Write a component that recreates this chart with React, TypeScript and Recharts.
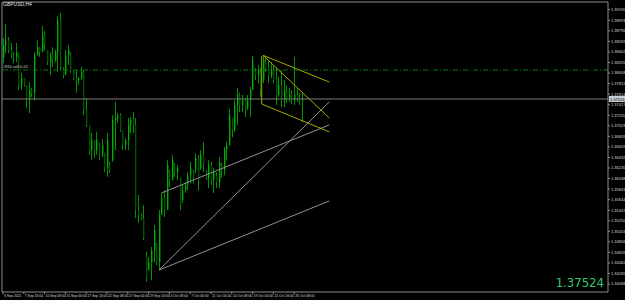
import { Bar, ComposedChart, ReferenceLine, XAxis, YAxis } from "recharts";

// GBPUSD H4, each drawn candle stands for two H4 bars (as on the downscaled screenshot)
const highs = [
  1.3866, 1.3892, 1.3868, 1.3857, 1.384, 1.3857, 1.3838, 1.3801, 1.3791, 1.3778,
  1.3784, 1.3773, 1.384, 1.3862, 1.3849, 1.3889, 1.3879, 1.3844, 1.384, 1.3849,
  1.3844, 1.3907, 1.3913, 1.3812, 1.3844, 1.3853, 1.384, 1.3806, 1.3806, 1.3793,
  1.3812, 1.3806, 1.3754, 1.3704, 1.3689, 1.3676, 1.3691, 1.367, 1.3678, 1.3651,
  1.3689, 1.3635, 1.3722, 1.3747, 1.3726, 1.3726, 1.3694, 1.3679, 1.3717, 1.3719,
  1.3728, 1.3717, 1.3573, 1.3539, 1.3554, 1.3467, 1.3457, 1.3476, 1.3517, 1.3483,
  1.3545, 1.3577, 1.3582, 1.3638, 1.362, 1.3648, 1.3633, 1.3629, 1.3605, 1.3592,
  1.3597, 1.3616, 1.3635, 1.362, 1.3651, 1.3648, 1.3657, 1.3672, 1.362, 1.3638,
  1.3635, 1.3623, 1.3616, 1.3644, 1.3633, 1.3663, 1.3672, 1.3734, 1.3717, 1.375,
  1.3773, 1.3764, 1.376, 1.3754, 1.376, 1.3775, 1.3833, 1.381, 1.3816, 1.381,
  1.3834, 1.3829, 1.3825, 1.3821, 1.3816, 1.3812, 1.3793, 1.3806, 1.3788, 1.3778,
  1.3773, 1.3769, 1.3831, 1.3773, 1.3764, 1.3765,
];
const lows = [
  1.3819, 1.3838, 1.3838, 1.3829, 1.3819, 1.3821, 1.3769, 1.3769, 1.3775, 1.3735,
  1.3726, 1.3756, 1.375, 1.3834, 1.3831, 1.384, 1.3844, 1.3816, 1.3797, 1.3812,
  1.3821, 1.3803, 1.3806, 1.3791, 1.3797, 1.3816, 1.3801, 1.3788, 1.3764, 1.3778,
  1.3788, 1.3722, 1.37, 1.3648, 1.3638, 1.3642, 1.3648, 1.3638, 1.3644, 1.3616,
  1.3607, 1.3614, 1.3635, 1.3657, 1.3707, 1.3691, 1.3657, 1.3657, 1.3657, 1.3689,
  1.3689, 1.353, 1.3521, 1.3526, 1.3489, 1.3411, 1.3433, 1.3414, 1.3448, 1.3442,
  1.3433, 1.3536, 1.3532, 1.3545, 1.3588, 1.3601, 1.3607, 1.3601, 1.3545, 1.3558,
  1.3577, 1.3582, 1.3595, 1.3595, 1.3614, 1.3582, 1.362, 1.3616, 1.3601, 1.3586,
  1.3592, 1.3577, 1.3586, 1.3586, 1.3605, 1.361, 1.3638, 1.3666, 1.3681, 1.3691,
  1.3704, 1.3728, 1.3728, 1.3719, 1.3732, 1.3719, 1.3769, 1.3788, 1.3782, 1.3756,
  1.3782, 1.3803, 1.3782, 1.3791, 1.3782, 1.3741, 1.3756, 1.3737, 1.3737, 1.3745,
  1.3747, 1.3743, 1.3741, 1.3747, 1.3741, 1.3709,
];
const opens = [
  1.3829, 1.3853, 1.3862, 1.3844, 1.3834, 1.3831, 1.3838, 1.3778, 1.3791, 1.3778,
  1.375, 1.3769, 1.3764, 1.3834, 1.3849, 1.384, 1.3872, 1.3844, 1.3821, 1.3834,
  1.3825, 1.384, 1.39, 1.381, 1.3797, 1.3834, 1.384, 1.3806, 1.3791, 1.3788,
  1.3791, 1.3803, 1.3732, 1.3704, 1.3657, 1.3676, 1.3657, 1.3666, 1.3648, 1.3651,
  1.3623, 1.3629, 1.3638, 1.3713, 1.3717, 1.3722, 1.3694, 1.3666, 1.3676, 1.3704,
  1.3713, 1.3704, 1.3545, 1.3536, 1.353, 1.3461, 1.3433, 1.3448, 1.347, 1.348,
  1.3448, 1.3536, 1.3567, 1.3545, 1.3616, 1.3601, 1.3629, 1.3616, 1.3601, 1.3564,
  1.3582, 1.3592, 1.361, 1.3616, 1.362, 1.3642, 1.3623, 1.3648, 1.3616, 1.3605,
  1.3629, 1.3601, 1.361, 1.3597, 1.3629, 1.362, 1.3657, 1.3666, 1.3717, 1.3694,
  1.3741, 1.376, 1.3741, 1.375, 1.3735, 1.375, 1.3769, 1.3803, 1.3797, 1.3803,
  1.3788, 1.3821, 1.381, 1.3797, 1.3806, 1.3788, 1.376, 1.3778, 1.375, 1.3769,
  1.3754, 1.376, 1.375, 1.376, 1.3754, 1.375,
];
const closes = [
  1.3853, 1.3862, 1.3844, 1.3834, 1.3831, 1.384, 1.3778, 1.3791, 1.3778, 1.375,
  1.3769, 1.3764, 1.3834, 1.3849, 1.384, 1.3872, 1.3853, 1.3821, 1.3834, 1.3825,
  1.384, 1.39, 1.381, 1.3797, 1.3834, 1.3844, 1.3806, 1.3791, 1.3788, 1.3791,
  1.3803, 1.3732, 1.3704, 1.3657, 1.3676, 1.3657, 1.3676, 1.3648, 1.3666, 1.3623,
  1.3676, 1.362, 1.3713, 1.3717, 1.3722, 1.3694, 1.3666, 1.3676, 1.3704, 1.3713,
  1.3704, 1.3545, 1.3536, 1.353, 1.3493, 1.3418, 1.3448, 1.347, 1.3508, 1.3448,
  1.3536, 1.3567, 1.3545, 1.3629, 1.3601, 1.3638, 1.3616, 1.3623, 1.3554, 1.3582,
  1.3592, 1.361, 1.3623, 1.3605, 1.3642, 1.3601, 1.3648, 1.3629, 1.3605, 1.3629,
  1.3601, 1.3616, 1.3597, 1.3635, 1.362, 1.3657, 1.3666, 1.3722, 1.3694, 1.3741,
  1.376, 1.3741, 1.375, 1.3732, 1.375, 1.3769, 1.3825, 1.3797, 1.3806, 1.3769,
  1.3825, 1.381, 1.3797, 1.3806, 1.3788, 1.376, 1.3778, 1.375, 1.3769, 1.3754,
  1.376, 1.375, 1.376, 1.3754, 1.375, 1.37524,
];

const priceTicks = [
  1.3919, 1.38993, 1.38796, 1.38599, 1.38402, 1.38205, 1.38008, 1.37811, 1.37614,
  1.37417, 1.3722, 1.37023, 1.36826, 1.36629, 1.36432, 1.36235, 1.36038, 1.35841,
  1.35644, 1.35447, 1.3525, 1.35053, 1.34856, 1.34659, 1.34462, 1.34265, 1.34068,
];
// H4 bar numbers of the time scale labels
const timeTicks = [0, 16, 32, 48, 64, 80, 96, 112, 128, 144, 160, 176, 192, 208, 224];
const timeLabels = [
  "3 Sep 2021", "7 Sep 16:00", "10 Sep 08:00", "15 Sep 00:00", "17 Sep 16:00",
  "22 Sep 08:00", "27 Sep 00:00", "29 Sep 16:00", "4 Oct 08:00", "7 Oct 00:00",
  "11 Oct 16:00", "14 Oct 08:00", "19 Oct 00:00", "21 Oct 16:00", "26 Oct 08:00",
];

const bid = 1.37524;
const orderPrice = 1.38065;

// drawn objects: [bar, price] -> [bar, price]
const yellowLines = [
  [[200, 1.3834], [251, 1.3784]],
  [[200, 1.3834], [251, 1.3717]],
  [[199, 1.3833], [199, 1.3743]],
  [[199, 1.3743], [251, 1.3691]],
];
const grayLines = [
  [[120, 1.3433], [251, 1.3747]],
  [[120, 1.3433], [251, 1.3562]],
  [[122, 1.3577], [251, 1.3704]],
];

const candles = highs.map((h, i) => ({
  bar: i * 2,
  high: h,
  low: lows[i],
  open: opens[i],
  close: closes[i],
}));

function Candle(props: any) {
  const { x, y, width, height, payload } = props;
  const top = Math.min(y, y + height);
  const h = Math.abs(height);
  const span = payload.high - payload.low;
  const k = span > 0 ? h / span : 0;
  const cx = Math.round(x + width / 2) + 0.5;
  const bodyTop = top + (payload.high - Math.max(payload.open, payload.close)) * k;
  const bodyH = Math.max(1, Math.abs(payload.open - payload.close) * k);
  const up = payload.close >= payload.open;
  return (
    <g>
      <line x1={cx} x2={cx} y1={top} y2={top + h} stroke="#009400" strokeWidth={1} />
      <rect x={cx - 0.5} y={bodyTop} width={1.4} height={bodyH} fill={up ? "#00b000" : "#005200"} />
    </g>
  );
}

function TimeTick({ x, y, payload }: any) {
  const label = timeLabels[timeTicks.indexOf(payload.value)];
  return (
    <g>
      <text x={x + 1} y={y + 3} fontSize={3.4} fill="#d8d8d8" textAnchor="start" fontFamily="Liberation Sans, sans-serif">
        {label}
      </text>
    </g>
  );
}

function BidLabel({ viewBox }: any) {
  const x = viewBox.x + viewBox.width + 1;
  const y = viewBox.y;
  return (
    <g>
      <rect x={x} y={y - 3} width={16} height={6} fill="#c4ccd6" />
      <text x={x + 1} y={y + 1.6} fontSize={4} fill="#000" fontFamily="Liberation Sans, sans-serif">
        {bid.toFixed(5)}
      </text>
    </g>
  );
}

function OrderLabel({ viewBox }: any) {
  return (
    <text x={viewBox.x + 1} y={viewBox.y - 2} fontSize={4} fill="#d0d0d0" fontFamily="Liberation Sans, sans-serif">
      #810 sell 0.01
    </text>
  );
}

export default function App() {
  return (
    <div style={{ position: "relative", width: 625, height: 300, background: "#000" }}>
      <style>{"body{margin:0;background:#000}"}</style>
      <ComposedChart width={625} height={300} data={candles} margin={{ top: 1, right: 0, left: 0, bottom: 0 }}>
        <XAxis xAxisId="frame" orientation="top" type="number" domain={[0, 1]} height={1} tick={false} tickLine={false} axisLine={{ stroke: "#8c8c8c" }} />
        <YAxis yAxisId="frame" orientation="left" type="number" domain={[0, 1]} width={2} tick={false} tickLine={false} axisLine={{ stroke: "#8c8c8c" }} />
        <XAxis
          type="number"
          dataKey="bar"
          domain={[-0.77, 465.4]}
          allowDataOverflow
          ticks={timeTicks}
          interval={0}
          height={8}
          tickSize={2}
          tickMargin={0}
          tick={<TimeTick />}
          tickLine={{ stroke: "#8c8c8c" }}
          axisLine={{ stroke: "#8c8c8c" }}
        />
        <YAxis
          orientation="right"
          type="number"
          domain={[1.3392, 1.39335]}
          allowDataOverflow
          ticks={priceTicks}
          interval={0}
          width={17}
          tickSize={2}
          tickMargin={1}
          tickFormatter={(v: number) => v.toFixed(5)}
          tick={{ fontSize: 4, fill: "#d8d8d8", fontFamily: "Liberation Sans, sans-serif" }}
          tickLine={{ stroke: "#8c8c8c" }}
          axisLine={{ stroke: "#8c8c8c" }}
        />
        <ReferenceLine y={orderPrice} stroke="#0a780a" strokeDasharray="5 2 1 2" label={<OrderLabel />} />
        <ReferenceLine y={bid} stroke="#7c7c7c" label={<BidLabel />} />
        <Bar dataKey={(d: any) => [d.low, d.high]} barSize={3} shape={<Candle />} isAnimationActive={false} />
        {grayLines.map((l, i) => (
          <ReferenceLine
            key={"g" + i}
            segment={[{ x: l[0][0], y: l[0][1] }, { x: l[1][0], y: l[1][1] }]}
            stroke="#948e9c"
            strokeWidth={1}
          />
        ))}
        {yellowLines.map((l, i) => (
          <ReferenceLine
            key={"y" + i}
            segment={[{ x: l[0][0], y: l[0][1] }, { x: l[1][0], y: l[1][1] }]}
            stroke="#a8a800"
            strokeWidth={1}
          />
        ))}
      </ComposedChart>
      <div style={{ position: "absolute", left: 3, top: 2, fontSize: 5, color: "#e0e0e0", fontFamily: "Liberation Sans, sans-serif", lineHeight: 1 }}>
        GBPUSD,H4
      </div>
      <div
        style={{
          position: "absolute",
          right: 21,
          top: 276,
          fontSize: 13,
          lineHeight: 1,
          color: "#35c86a",
          fontFamily: "'Liberation Sans Narrow', 'DejaVu Sans Condensed', sans-serif",
        }}
      >
        {bid.toFixed(5)}
      </div>
    </div>
  );
}
